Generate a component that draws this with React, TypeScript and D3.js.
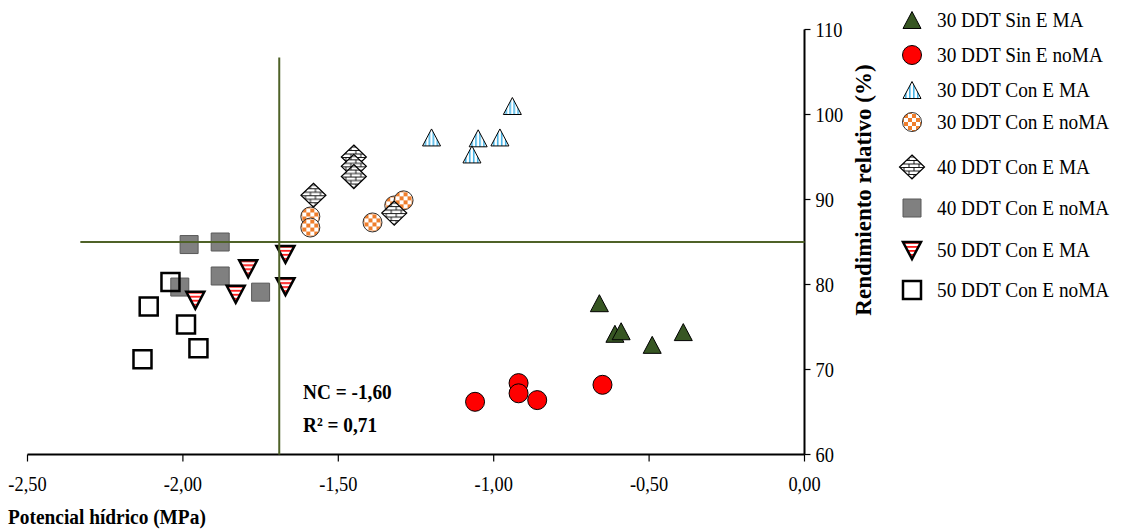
import React from "react";
import * as d3 from "d3";

// water potential (MPa) and relative yield (%) per treatment
const sinMA_x = [-0.66, -0.61, -0.59, -0.49, -0.39];
const sinMA_y = [77.8, 74.2, 74.5, 72.9, 74.4];
const sinNoMA_x = [-1.06, -0.92, -0.92, -0.86, -0.65];
const sinNoMA_y = [66.2, 68.4, 67.2, 66.4, 68.2];
const con30MA_x = [-1.2, -0.94, -1.05, -0.98, -1.07];
const con30MA_y = [97.3, 101.0, 97.2, 97.3, 95.3];
const con30NoMA_x = [-1.59, -1.59, -1.39, -1.32, -1.29];
const con30NoMA_y = [88.0, 86.7, 87.3, 89.3, 89.9];
const con40MA_x = [-1.58, -1.45, -1.45, -1.45, -1.32];
const con40MA_y = [90.5, 95.0, 93.9, 92.7, 88.4];
const con40NoMA_x = [-1.98, -1.88, -1.88, -2.01, -1.75];
const con40NoMA_y = [84.7, 85.0, 81.0, 79.7, 79.1];
const con50MA_x = [-1.67, -1.79, -1.67, -1.83, -1.96];
const con50MA_y = [83.6, 81.9, 79.8, 78.9, 78.2];
const con50NoMA_x = [-2.04, -2.11, -1.99, -1.95, -2.13];
const con50NoMA_y = [80.3, 77.4, 75.3, 72.5, 71.2];

const seriesNames = [
  "30 DDT Sin E MA",
  "30 DDT Sin E noMA",
  "30 DDT Con E MA",
  "30 DDT Con E noMA",
  "40 DDT Con E MA",
  "40 DDT Con E noMA",
  "50 DDT Con E MA",
  "50 DDT Con E noMA",
];
const seriesX = [sinMA_x, sinNoMA_x, con30MA_x, con30NoMA_x, con40MA_x, con40NoMA_x, con50MA_x, con50NoMA_x];
const seriesY = [sinMA_y, sinNoMA_y, con30MA_y, con30NoMA_y, con40MA_y, con40NoMA_y, con50MA_y, con50NoMA_y];

const xTicks = [-2.5, -2.0, -1.5, -1.0, -0.5, 0];
const yTicks = [60, 70, 80, 90, 100, 110];

// threshold lines
const ncX = -1.69;
const ncTop = 106.7;
const yieldLine = 85;
const yieldLineStart = -2.33;

const W = 1137;
const H = 529;
const SX = 0.92; // text looks a bit condensed in the original

const styles = [
  { shape: "tri", fill: "#375623", stroke: "#000", sw: 1 },
  { shape: "circle", fill: "#ff0000", stroke: "#000", sw: 1 },
  { shape: "tri", fill: "url(#stripeBlue)", stroke: "#000", sw: 1 },
  { shape: "circle", fill: "url(#checkOrange)", stroke: "#333", sw: 1 },
  { shape: "diamond", fill: "url(#brick)", stroke: "#000", sw: 1.2 },
  { shape: "square", fill: "#808080", stroke: "#595959", sw: 1 },
  { shape: "triDown", fill: "url(#stripeRed)", stroke: "#000", sw: 2.5 },
  { shape: "square", fill: "none", stroke: "#000", sw: 2.5 },
];

const shapePath = (shape: string) => {
  const p = d3.path();
  if (shape === "tri") {
    p.moveTo(0, -8.5);
    p.lineTo(9, 8.5);
    p.lineTo(-9, 8.5);
    p.closePath();
  } else if (shape === "triDown") {
    p.moveTo(-9, -8);
    p.lineTo(9, -8);
    p.lineTo(0, 9);
    p.closePath();
  } else if (shape === "diamond") {
    p.moveTo(0, -12);
    p.lineTo(12.5, 0);
    p.lineTo(0, 12);
    p.lineTo(-12.5, 0);
    p.closePath();
  } else if (shape === "square") {
    p.rect(-9, -9, 18, 18);
  } else {
    p.arc(0, 0, 9.5, 0, Math.PI * 2);
  }
  return p.toString();
};

const fmt = (v: number) => d3.format(".2f")(v).replace(".", ",").replace("−", "-");

const T = ({ x, y, size, bold, anchor, dy, sx, children }: any) => (
  <text
    transform={`translate(${x},${y}) scale(${sx || SX},1)`}
    fontSize={size}
    fontWeight={bold ? "bold" : "normal"}
    textAnchor={anchor || "start"}
    dy={dy}
  >
    {children}
  </text>
);

export default function App() {
  const x = d3.scaleLinear().domain([-2.5, 0]).range([27.5, 804.5]);
  const y = d3.scaleLinear().domain([60, 110]).range([454.5, 29.5]);
  const font = "'Liberation Serif', 'Times New Roman', serif";

  return (
    <svg width={W} height={H} style={{ position: "absolute", left: 0, top: 0, background: "#fff" }} fontFamily={font}>
      <defs>
        <pattern id="stripeBlue" patternUnits="userSpaceOnUse" width={4} height={4}>
          <rect width={4} height={4} fill="#fff" />
          <rect x={1} width={1.6} height={4} fill="#47b4e6" />
        </pattern>
        <pattern id="checkOrange" patternUnits="userSpaceOnUse" width={8} height={8}>
          <rect width={8} height={8} fill="#fff" />
          <rect width={4} height={4} fill="#ef7e2c" />
          <rect x={4} y={4} width={4} height={4} fill="#ef7e2c" />
        </pattern>
        <pattern id="brick" patternUnits="userSpaceOnUse" width={10} height={7}>
          <rect width={10} height={7} fill="#fff" />
          <path d="M0,0.5H10M0,4H10M2,0.5V4M7,4V7.5" stroke="#000" strokeWidth={0.9} />
        </pattern>
        <pattern id="stripeRed" patternUnits="userSpaceOnUse" width={4} height={4}>
          <rect width={4} height={4} fill="#fff" />
          <rect width={4} height={1.8} fill="#ff1a1a" />
        </pattern>
      </defs>

      {/* axes */}
      <line x1={x(-2.5)} x2={x(0)} y1={y(60)} y2={y(60)} stroke="#000" strokeWidth={2} />
      <line x1={x(0)} x2={x(0)} y1={y(60)} y2={y(110)} stroke="#000" strokeWidth={2} />
      {xTicks.map((t) => (
        <g key={"x" + t}>
          <line x1={x(t)} x2={x(t)} y1={y(60)} y2={y(60) + 7} stroke="#000" strokeWidth={1.2} />
          <T x={x(t)} y={491} size={20} anchor="middle">
            {fmt(t)}
          </T>
        </g>
      ))}
      {yTicks.map((t) => (
        <g key={"y" + t}>
          <line x1={x(0)} x2={x(0) + 6} y1={y(t)} y2={y(t)} stroke="#000" strokeWidth={1.2} />
          <T x={x(0) + 11} y={y(t)} dy="0.35em" size={20}>
            {t}
          </T>
        </g>
      ))}

      {/* points */}
      {seriesX.map((xs, si) => (
        <g key={"s" + si}>
          {xs.map((v, i) => (
            <path
              key={i}
              d={shapePath(styles[si].shape)}
              transform={`translate(${x(v)},${y(seriesY[si][i])})`}
              fill={styles[si].fill}
              stroke={styles[si].stroke}
              strokeWidth={styles[si].sw}
            />
          ))}
        </g>
      ))}

      {/* threshold lines */}
      <line x1={x(ncX)} x2={x(ncX)} y1={y(60)} y2={y(ncTop)} stroke="#4f6228" strokeWidth={2} />
      <line x1={x(yieldLineStart)} x2={x(0)} y1={y(yieldLine)} y2={y(yieldLine)} stroke="#4f6228" strokeWidth={2} />

      <T x={303} y={399} size={21} bold>
        NC = -1,60
      </T>
      <T x={303} y={432} size={21} bold>
        R² = 0,71
      </T>

      <T x={8} y={524} size={22} bold sx={0.88}>
        Potencial hídrico (MPa)
      </T>
      <text transform="translate(871,190) rotate(-90)" textAnchor="middle" fontSize={23} fontWeight="bold">
        Rendimiento relativo (%)
      </text>

      {/* legend */}
      {seriesNames.map((name, i) => {
        const ly = [20, 55, 90, 122, 167, 208, 250, 290][i];
        return (
          <g key={"l" + i} transform={`translate(912,${ly})`}>
            <path d={shapePath(styles[i].shape)} fill={styles[i].fill} stroke={styles[i].stroke} strokeWidth={styles[i].sw} />
            <T x={25} y={0} dy="0.35em" size={21}>
              {name}
            </T>
          </g>
        );
      })}
    </svg>
  );
}
